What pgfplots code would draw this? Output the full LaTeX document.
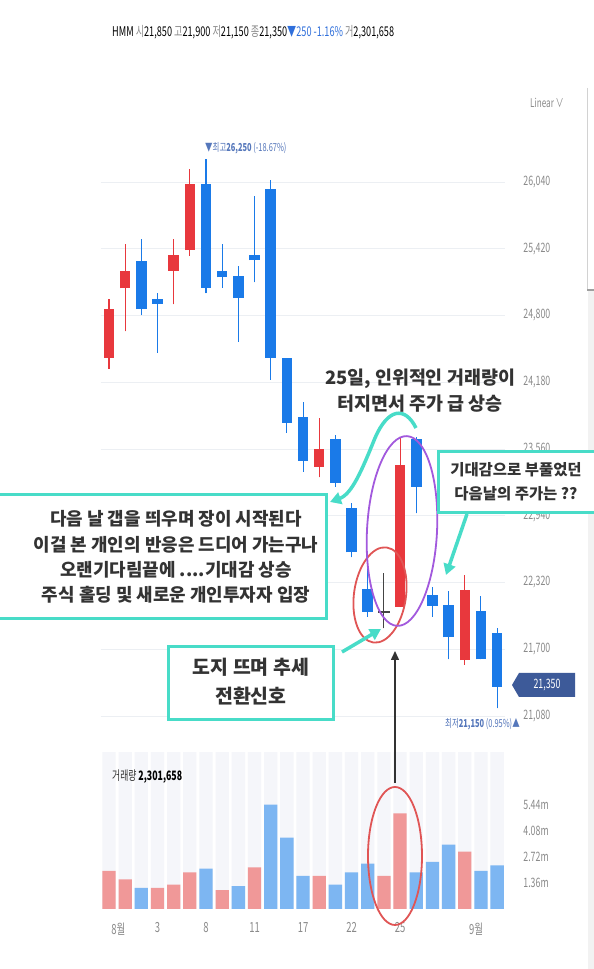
\documentclass[border=0pt]{standalone}
\usepackage{fontspec}
\setmainfont{Noto Sans CJK KR}
\newfontfamily\nar[FakeStretch=0.68]{Noto Sans CJK KR}
\usepackage{pgfplots}
\usepackage{pgfplotstable}
\pgfplotsset{compat=1.18}
\usetikzlibrary{arrows.meta}
\definecolor{cred}{HTML}{E8383D}
\definecolor{cblue}{HTML}{1A7AE8}
\definecolor{vred}{HTML}{F09898}
\definecolor{vblue}{HTML}{7DB6F2}
\definecolor{stripe}{HTML}{F5F6FA}
\definecolor{gridc}{HTML}{ECEFF3}
\definecolor{tickc}{HTML}{8A8A8A}
\definecolor{teal}{HTML}{48DCC8}
\definecolor{purp}{HTML}{A259DD}
\definecolor{ered}{HTML}{E05555}
\definecolor{tagc}{HTML}{3D5A99}
\definecolor{hblue}{HTML}{2F6FDB}
\definecolor{lblc}{HTML}{5577BB}
\definecolor{txt}{HTML}{333333}
\definecolor{dojic}{HTML}{444444}

\pgfplotstableread{
i o h l c
0 24408 24953 24303 24857
1 25052 25461 24653 25213
4 25216 25513 24904 25362
5 25408 26158 25353 26019
13 23395 23845 23297 23557
18 22095 23674 22095 23411
22 21599 22389 21553 22250
}\redc
\pgfplotstableread{
i o h l c
2 25309 25513 24804 24860
3 24953 25006 24454 24907
6 26019 26250 25006 25058
7 25210 25461 25058 25155
8 25167 25260 24554 24960
9 25362 25910 25108 25313
10 25975 26059 24201 24408
11 24408 24408 23711 23804
12 23860 23999 23349 23451
14 23650 23690 23209 23247
15 23014 23055 22553 22600
16 22256 22559 22002 22048
19 23650 23674 22962 23209
20 22203 22280 22002 22101
21 22110 22243 21606 21810
23 22057 22194 21606 21606
24 21850 21900 21150 21350
}\bluec
\pgfplotstableread{
i o h l c
17 22048 22405 21894 22040
}\dojic

\pgfplotsset{
  cbar/.style 2 args={only marks, mark=*, mark size=0pt, mark options={draw=none, fill=none}, forget plot,
    error bars/.cd, y dir=plus, y explicit, error mark=none,
    error bar style={line width=#1, draw=#2}},
}

\begin{document}
\begin{tikzpicture}
\useasboundingbox (0,0) rectangle (594bp,969bp);
\fill[white] (0,0) rectangle (594bp,969bp);

% ---------------- price axis ----------------
\begin{axis}[
  at={(100.9bp,239bp)}, anchor=south west,
  width=404.3bp, height=610bp, scale only axis,
  xmin=-0.5, xmax=24.5, ymin=20949, ymax=26616,
  axis line style={draw=none},
  xtick=\empty,
  ytick={21080,21700,22320,22940,23560,24180,24800,25420,26040},
  scaled y ticks=false,
  ymajorgrids, grid style={color=gridc, line width=0.7bp},
  ytick pos=right, major tick length=0pt,
  yticklabel style={font=\nar\fontsize{13}{13}\selectfont, text=tickc, anchor=west, inner sep=0pt, xshift=18bp,
    /pgf/number format/.cd, fixed, precision=0, 1000 sep={,}, assume math mode=true},
]
% wicks
\addplot[cbar={1.1bp}{cred}] table[x=i, y=l, y error expr=\thisrow{h}-\thisrow{l}] {\redc};
\addplot[cbar={1.1bp}{cblue}] table[x=i, y=l, y error expr=\thisrow{h}-\thisrow{l}] {\bluec};
\addplot[cbar={1.1bp}{dojic}] table[x=i, y=l, y error expr=\thisrow{h}-\thisrow{l}] {\dojic};
% bodies
\addplot[cbar={10.5bp}{cred}] table[x=i, y=o, y error expr=\thisrow{c}-\thisrow{o}] {\redc};
\addplot[cbar={10.5bp}{cblue}] table[x=i, y=c, y error expr=\thisrow{o}-\thisrow{c}] {\bluec};
\addplot[only marks, mark=-, mark size=6bp, mark options={line width=1.3bp, draw=dojic}] coordinates {(17,22046)};
\end{axis}

% ---------------- volume axis ----------------
\begin{axis}[
  at={(100.9bp,60bp)}, anchor=south west,
  width=404.3bp, height=157bp, scale only axis,
  xmin=-0.5, xmax=24.5, ymin=0, ymax=8.21,
  axis line style={draw=none},
  major tick length=0pt,
  xtick={0.58,3,6,9,12,15,18,22.7},
  xticklabels={8월,3,8,11,17,22,25,9월},
  xticklabel style={font=\nar\fontsize{14}{14}\selectfont, text=tickc, yshift=-10bp},
  ytick={1.36,2.72,4.08,5.44},
  yticklabels={1.36m,2.72m,4.08m,5.44m},
  ytick pos=right,
  yticklabel style={font=\nar\fontsize{13}{13}\selectfont, text=tickc, anchor=west, inner sep=0pt, xshift=18bp},
]
\addplot[ybar, bar width=13.3bp, bar shift=0pt, fill=stripe, draw=none] coordinates {
(0,8.21)(1,8.21)(2,8.21)(3,8.21)(4,8.21)(5,8.21)(6,8.21)(7,8.21)(8,8.21)(9,8.21)(10,8.21)(11,8.21)(12,8.21)
(13,8.21)(14,8.21)(15,8.21)(16,8.21)(17,8.21)(18,8.21)(19,8.21)(20,8.21)(21,8.21)(22,8.21)(23,8.21)(24,8.21)};
\addplot[ybar, bar width=13.3bp, bar shift=0pt, fill=vred, draw=none] coordinates {
(0,2.00)(1,1.55)(3,1.10)(4,1.27)(5,1.92)(7,0.99)(9,2.18)(13,1.73)(17,1.73)(18,5.00)(22,3.00)};
\addplot[ybar, bar width=13.3bp, bar shift=0pt, fill=vblue, draw=none] coordinates {
(2,1.10)(6,2.11)(8,1.20)(10,5.46)(11,3.73)(12,1.73)(14,1.27)(15,1.92)(16,2.37)(19,1.92)(20,2.46)(21,3.37)(23,2.00)(24,2.28)};
\end{axis}

% ---------------- annotations (pixel coords, y down) ----------------
\begin{scope}[shift={(0bp,969bp)}, x=1bp, y=-1bp]
% right side strip
\draw[gray!35, line width=0.8bp] (587,88) -- (587,290);
\draw[gray!75, line width=2bp] (587,290) -- (594,290);
\fill[black!5] (587.5,291) rectangle (594,969);

% header
\node[anchor=west, inner sep=0pt, font=\nar\fontsize{13.5}{13.5}\selectfont] at (112,32)
  {\textcolor{black}{HMM}\ \textcolor{tickc}{시}\textcolor{black}{21,850}\ \textcolor{tickc}{고}\textcolor{black}{21,900}\ \textcolor{tickc}{저}\textcolor{black}{21,150}\ \textcolor{tickc}{종}\textcolor{black}{21,350}\textcolor{hblue}{▼250 -1.16\%}\ \textcolor{tickc}{거}\textcolor{black}{2,301,658}};
\node[anchor=west, inner sep=0pt, font=\nar\fontsize{12}{12}\selectfont, text=tickc] at (530,103) {Linear ∨};

% high / low labels
\node[anchor=west, inner sep=0pt, font=\nar\fontsize{11}{11}\selectfont, text=lblc] at (205,148) {▼최고\textbf{26,250} (-18.67\%)};
\node[anchor=west, inner sep=0pt, font=\nar\fontsize{11}{11}\selectfont, text=lblc] at (445,724) {최저\textbf{21,150} (0.95\%)▲};

% price tag
\fill[tagc] (512,685) -- (519,673) -- (575,673) -- (575,697) -- (519,697) -- cycle;
\node[inner sep=0pt, font=\nar\fontsize{13}{13}\selectfont, text=white] at (547,685) {21,350};

% volume label
\node[anchor=west, inner sep=0pt, font=\nar\fontsize{13}{13}\selectfont] at (112,777) {\textcolor{txt}{거래량}\ \textcolor{black}{\bfseries 2,301,658}};

% ellipses
\draw[ered, line width=1.8bp, rotate around={-8:(380,595)}] (380,595) ellipse [x radius=26, y radius=48];
\draw[purp, line width=1.8bp, rotate around={-3:(402,531)}] (402,531) ellipse [x radius=35, y radius=95];
\draw[ered, line width=1.8bp] (395,856) ellipse [x radius=27, y radius=69];

% black arrow from volume to candle
\draw[black!80, line width=1.5bp, -{Triangle[length=9bp, width=8bp]}] (395,783) -- (395,651);

% teal arrows
\draw[teal, line width=3.5bp, -{Triangle[length=11bp, width=12bp]}] (416,428) .. controls (405,406) and (388,408) .. (375,438) .. controls (362,470) and (352,494) .. (330,502);
\draw[teal, line width=3.5bp, -{Triangle[length=11bp, width=12bp]}] (467,514) -- (446,575);
\draw[teal, line width=3.5bp, -{Triangle[length=11bp, width=12bp]}] (342,652) -- (381,629);

% boxes
\draw[teal, line width=3bp, fill=white] (-5,495) rectangle (326,619);
\draw[teal, line width=3bp, fill=white] (438,452) rectangle (600,513);
\draw[teal, line width=3bp, fill=white] (168,647) rectangle (333,720);

% texts
\node[align=center, text=txt, font=\bfseries\fontsize{18.5}{26}\selectfont] at (420,391)
  {25일, 인위적인 거래량이\\터지면서 주가 급 상승};
\node[align=center, text=txt, font=\bfseries\fontsize{18}{25.3}\selectfont] at (176,557)
  {다음 날 갭을 띄우며 장이 시작된다\\이걸 본 개인의 반응은 드디어 가는구나\\오랜기다림끝에 ....기대감 상승\\주식 홀딩 및 새로운 개인투자자 입장};
\node[align=center, text=txt, font=\bfseries\fontsize{15.5}{24}\selectfont] at (516,482)
  {기대감으로 부풀었던\\다음날의 주가는 ??};
\node[align=center, text=txt, font=\bfseries\fontsize{19.5}{29}\selectfont] at (251,682)
  {도지 뜨며 추세\\전환신호};
\end{scope}
\end{tikzpicture}
\end{document}
